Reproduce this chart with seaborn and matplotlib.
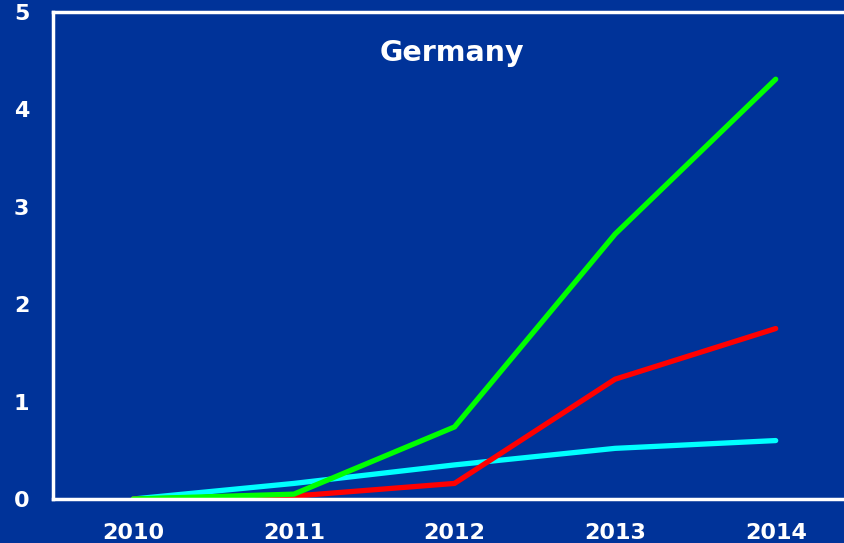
import matplotlib
matplotlib.use("Agg")
import matplotlib.pyplot as plt
import seaborn as sns
import pandas as pd

years = [2010, 2011, 2012, 2013, 2014]
green_vals = [0.0, 0.05, 0.74, 2.72, 4.31]
red_vals = [0.0, 0.03, 0.16, 1.23, 1.75]
cyan_vals = [0.0, 0.16, 0.35, 0.52, 0.60]
series_names = ["cyan", "red", "green"]
title = "Germany"

df = pd.concat([
    pd.DataFrame({"year": years, "value": cyan_vals, "series": "cyan"}),
    pd.DataFrame({"year": years, "value": red_vals, "series": "red"}),
    pd.DataFrame({"year": years, "value": green_vals, "series": "green"}),
])

bg = "#003399"
sns.set_style("white")
plt.rcParams["font.family"] = ["DejaVu Sans"]
plt.rcParams["font.weight"] = "bold"

fig = plt.figure(figsize=(8.44, 5.43), dpi=100, facecolor=bg)
ax = fig.add_axes([53 / 844, 1 - 499 / 543, (856 - 53) / 844, (499 - 12) / 543])
ax.set_facecolor(bg)

palette = {"cyan": "#00FFFF", "red": "#FF0000", "green": "#00FF00"}
sns.lineplot(data=df, x="year", y="value", hue="series", hue_order=series_names,
             palette=palette, linewidth=3.8, ax=ax, legend=False,
             solid_capstyle="round", solid_joinstyle="miter")

ax.set_xlim(2009.5, 2014.5)
ax.set_ylim(0, 5)
ax.set_xticks([2010.5, 2011.5, 2012.5, 2013.5])
ax.set_xticklabels([])
ax.set_xticks(years, minor=True)
ax.set_xticklabels([str(y) for y in years], minor=True)
ax.set_yticks([0, 1, 2, 3, 4, 5])
ax.set_yticklabels(["0", "1", "2", "3", "4", "5"])

ax.tick_params(axis="x", which="major", direction="in", length=6, width=1.2, color="white")
ax.tick_params(axis="x", which="minor", length=0, pad=17, labelsize=16, labelcolor="white")
ax.tick_params(axis="y", direction="in", length=6, width=1.2, color="white",
               pad=17, labelsize=16, labelcolor="white")
for lab in ax.get_xticklabels(minor=True) + ax.get_yticklabels():
    lab.set_fontweight("bold")

for side in ["left", "bottom", "top", "right"]:
    ax.spines[side].set_color("white")
    ax.spines[side].set_linewidth(2.5)

ax.set_xlabel("")
ax.set_ylabel("")
ax.text((452 - 53) / (856 - 53), (499 - 53) / (499 - 12), title, transform=ax.transAxes,
        ha="center", va="center", color="white", fontsize=20.5, fontweight="bold")

fig.savefig("out.png", dpi=100, facecolor=bg)
